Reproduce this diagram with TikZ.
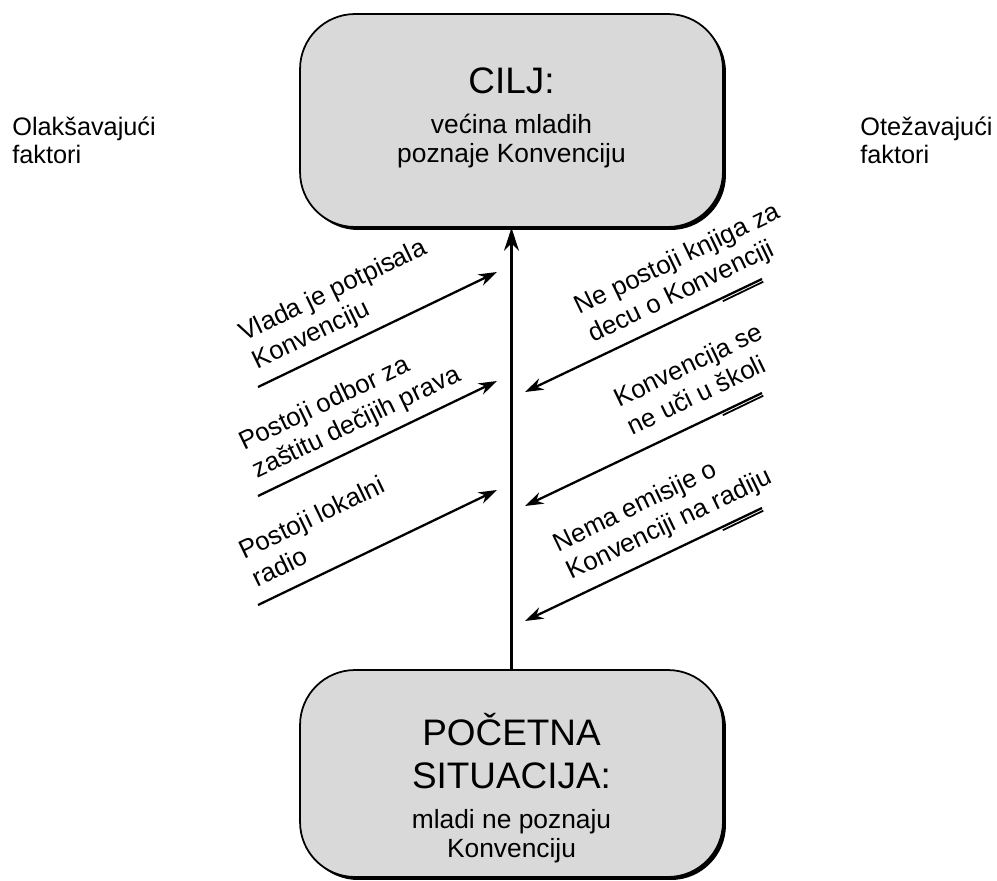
\documentclass[tikz,border=0pt]{standalone}
\usepackage{fontspec}
\setmainfont{Liberation Sans}
\usetikzlibrary{arrows.meta,shadows,calc}
\definecolor{boxgray}{RGB}{217,217,217}
\newcommand\bigtxt{\fontsize{21}{24}\selectfont}

\begin{document}
\begin{tikzpicture}[x=0.02cm,y=-0.02cm,>=Stealth,
 box/.style={draw,line width=1pt,rounded corners=1.1cm,fill=boxgray,minimum width=8.46cm,
   drop shadow={shadow xshift=0.06cm,shadow yshift=-0.06cm,fill=black,opacity=1}},
 txt/.style={align=center,inner sep=0pt,font=\fontsize{15}{16.5}\selectfont},
 side/.style={align=left,anchor=north west,inner sep=0pt,font=\fontsize{14.4}{15.5}\selectfont},
 lbl/.style={align=left,anchor=base west,rotate=25.7,inner sep=0pt,font=\fontsize{14.7}{17.5}\selectfont},
 fac/.style={->,line width=1.3pt,arrows={-Stealth[length=10.5pt,width=7pt]}},
 tail/.style={line width=1pt},
 main/.style={line width=1.4pt,arrows={-Stealth[length=13pt,width=8.5pt]}}]
\useasboundingbox (0,0) rectangle (997,880);
% goal and start
\node[box,minimum height=4.26cm] (goal) at (511.5,120.5) {};
\node[txt] (goaltxt) at (511.5,117.7) {{\bigtxt CILJ:}\\[6.3pt] većina mladih\\ poznaje Konvenciju};
\node[box,minimum height=4.14cm] (start) at (511.5,773.5) {};
\node[txt] (starttxt) at (511.5,788) {{\bigtxt POČETNA}\\[8pt] {\bigtxt SITUACIJA:}\\[6.3pt] mladi ne poznaju\\ Konvenciju};
\draw[main] (start) -- (goal);
% side titles
\node[side] (plus) at (12,117) {Olakšavajući\\ faktori};
\node[side] (minus) at (860,117) {Otežavajući\\ faktori};
% factor arrows
\foreach \y [count=\i] in {387,496,605} {
  \coordinate (ls\i) at (258,\y); \coordinate (le\i) at (497,\y-115);}
\foreach \y [count=\i] in {279,393,508} {
  \coordinate (rs\i) at (762,\y); \coordinate (re\i) at (525,\y+113);}
\foreach \i in {1,2,3} {
  \draw[fac] (ls\i) -- (le\i);
  \draw[fac] (rs\i) -- (re\i);
  \draw[tail] ($(rs\i)+(1.3,2.7)$) -- ++(-40.5,19.5);}
% labels
\node[lbl] (l1) at (257.4,369.6) {Vlada je potpisala\\ Konvenciju};
\node[lbl] (l2) at (257.4,478.6) {Postoji odbor za\\ zaštitu dečijih prava};
\node[lbl] (l3) at (257.4,587.6) {Postoji lokalni\\ radio};
\node[lbl] (r1) at (592.9,342.6) {Ne postoji knjiga za\\ decu o Konvenciji};
\node[lbl] (r2) at (632.5,435.5) {Konvencija se\\ ne uči u školi};
\node[lbl] (r3) at (571.3,580) {Nema emisije o\\ Konvenciji na radiju};
\end{tikzpicture}
\end{document}
